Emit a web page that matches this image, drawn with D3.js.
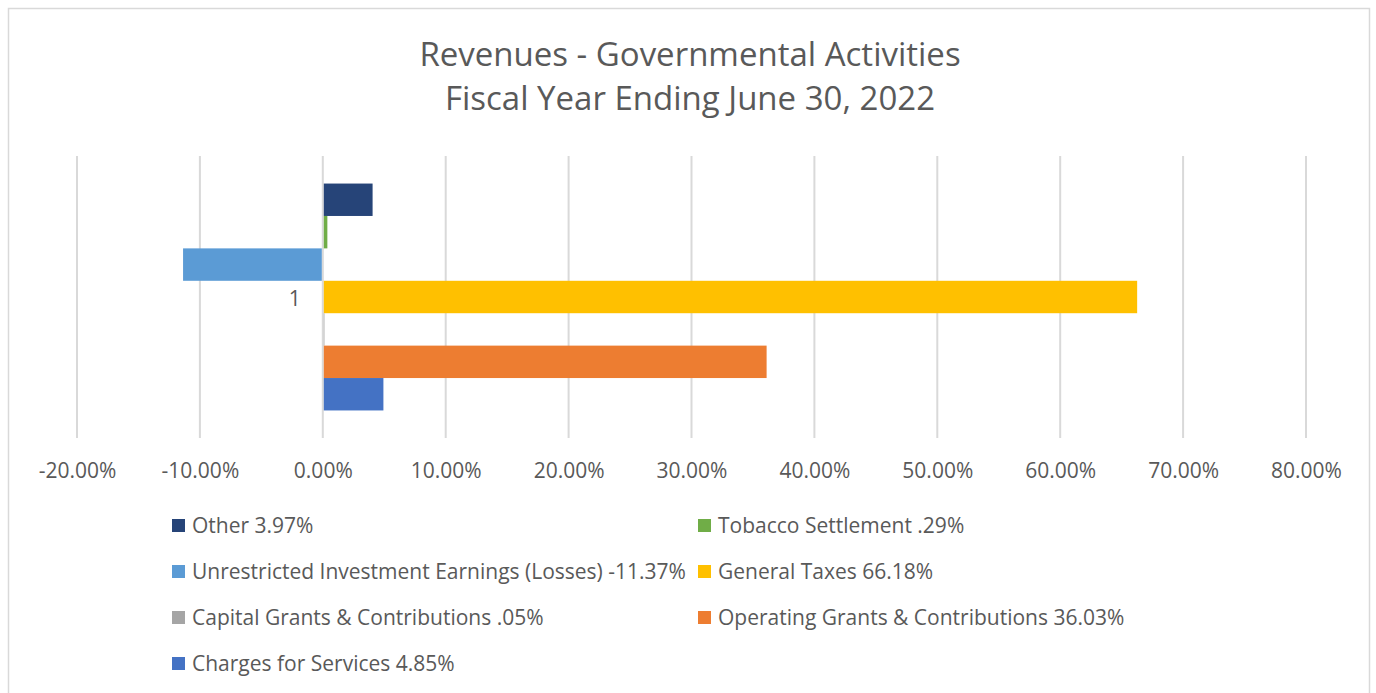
<!DOCTYPE html>
<html>
<head>
<meta charset="utf-8">
<script src="https://cdn.jsdelivr.net/npm/d3@7"></script>
<style>
  body { margin: 0; background: #fff; }
  svg text { font-family: "Open Sans", sans-serif; fill: #595959; }
</style>
</head>
<body>
<div id="chart"></div>
<script>
// 1: DATA
const titleLines = ["Revenues - Governmental Activities", "Fiscal Year Ending June 30, 2022"];
const seriesNames = [
    "Other 3.97%",
    "Tobacco Settlement .29%",
    "Unrestricted Investment Earnings (Losses) -11.37%",
    "General Taxes 66.18%",
    "Capital Grants & Contributions .05%",
    "Operating Grants & Contributions 36.03%",
    "Charges for Services 4.85%"
];
const seriesValues = [0.0397, 0.0029, -0.1137, 0.6618, 0.0005, 0.3603, 0.0485];
const seriesColors = ["#264478", "#70AD47", "#5B9BD5", "#FFC000", "#A5A5A5", "#ED7D31", "#4472C4"];
const categories = ["1"];
const xTicks = [-0.2, -0.1, 0, 0.1, 0.2, 0.3, 0.4, 0.5, 0.6, 0.7, 0.8];

// 2: SIZES
const W = 1376, H = 693;
const plot = { left: 77, right: 1306, top: 156, bottom: 438 };

const svg = d3.select("#chart")
    .append("svg")
    .attr("width", W)
    .attr("height", H);

// chart border
svg.append("rect")
    .attr("x", 8.5).attr("y", 8.5)
    .attr("width", 1361).attr("height", H + 10)
    .attr("fill", "#fff")
    .attr("stroke", "#d9d9d9")
    .attr("stroke-width", 1.5);

// 3: SCALES
const x = d3.scaleLinear().domain([-0.2, 0.8]).range([plot.left, plot.right]);

const yCat = d3.scaleBand().domain(categories).range([plot.top, plot.bottom]);
const ySeries = d3.scaleBand()
    .domain(seriesNames)
    .range([yCat(categories[0]), yCat(categories[0]) + yCat.bandwidth()])
    .paddingOuter(0.85)
    .paddingInner(0);

// 4: GRIDLINES
svg.append("g")
    .selectAll("line")
    .data(xTicks)
    .join("line")
    .attr("x1", d => x(d)).attr("x2", d => x(d))
    .attr("y1", plot.top).attr("y2", plot.bottom)
    .attr("stroke", "#d9d9d9")
    .attr("stroke-width", 2);

// 5: BARS
const bars = seriesNames.map((name, i) => ({ name, value: seriesValues[i], color: seriesColors[i] }));

svg.append("g")
    .selectAll("rect")
    .data(bars)
    .join("rect")
    .attr("x", d => d.value >= 0 ? x(0) + 1 : x(d.value))
    .attr("y", d => ySeries(d.name))
    .attr("width", d => Math.abs(x(d.value) - x(0)) - (d.value >= 0 ? 0 : 1))
    .attr("height", ySeries.bandwidth())
    .attr("fill", d => d.color);

// 6: AXIS LABELS
const pct = d3.format(".2%");
const xAxis = d3.axisBottom(x)
    .tickValues(xTicks)
    .tickFormat(d => pct(d).replace("\u2212", "-"))
    .tickSize(0)
    .tickPadding(0);

const gx = svg.append("g")
    .attr("transform", `translate(0,${plot.bottom + 40})`)
    .call(xAxis);
gx.select(".domain").remove();
gx.selectAll("text")
    .attr("dy", 0)
    .style("font-family", "'Open Sans', sans-serif")
    .style("font-size", "21px")
    .style("fill", "#595959");

// category label
svg.append("g")
    .selectAll("text")
    .data(categories)
    .join("text")
    .attr("x", x(0) - 22)
    .attr("y", d => yCat(d) + yCat.bandwidth() / 2 + 9)
    .attr("text-anchor", "end")
    .style("font-size", "21px")
    .text(d => d);

// 7: TITLE
svg.append("g")
    .selectAll("text")
    .data(titleLines)
    .join("text")
    .attr("x", 690)
    .attr("y", (d, i) => 66 + i * 44)
    .attr("text-anchor", "middle")
    .style("font-size", "33px")
    .text(d => d);

// 8: LEGEND
const legendCols = [172, 698];
const legendRow0 = 533, legendRowStep = 46;
const legend = svg.append("g")
    .selectAll("g")
    .data(bars)
    .join("g")
    .attr("transform", (d, i) => `translate(${legendCols[i % 2]},${legendRow0 + Math.floor(i / 2) * legendRowStep})`);

legend.append("rect")
    .attr("x", 0).attr("y", -14)
    .attr("width", 13).attr("height", 13)
    .attr("fill", d => d.color);

legend.append("text")
    .attr("x", 20)
    .attr("y", 0)
    .style("font-size", "21px")
    .text(d => d.name);
</script>
</body>
</html>
